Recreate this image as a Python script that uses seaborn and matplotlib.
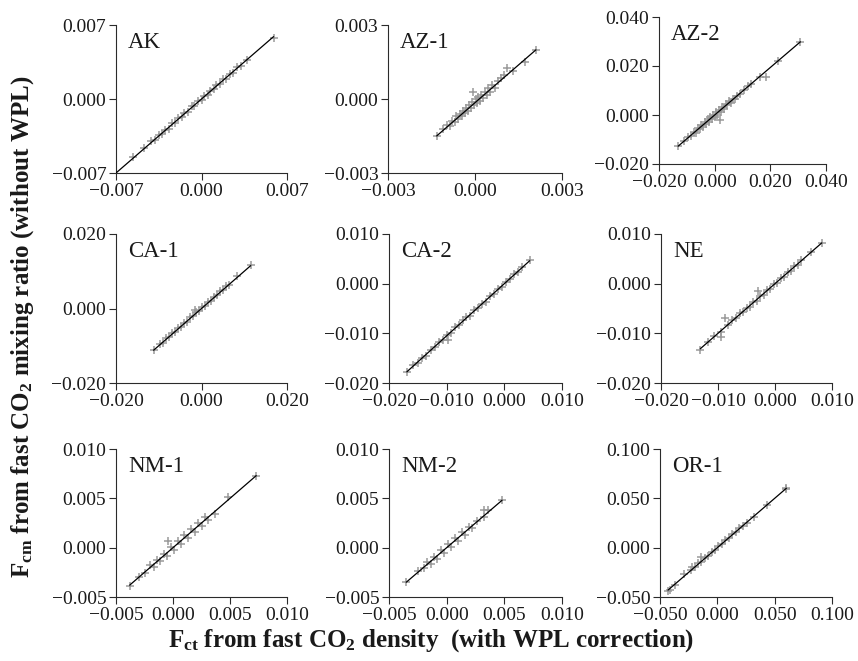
import matplotlib
matplotlib.use("Agg")
import matplotlib.pyplot as plt
from matplotlib.ticker import FuncFormatter
import seaborn as sns

# ---------------------------------------------------------------------------
# Flux pairs per site: Fct (x, with WPL correction) vs Fcm (y, mixing ratio)
# ---------------------------------------------------------------------------
AK_X = [-0.0056, -0.0047, -0.0041, -0.0038, -0.0035, -0.0032, -0.0030, -0.0027,
        -0.0024, -0.0022, -0.0019, -0.0016, -0.0014, -0.0011, -0.0008, -0.0006,
        -0.0003, 0.0000, 0.0002, 0.0005, 0.0007, 0.0010, 0.0012, 0.0015,
        0.0018, 0.0020, 0.0023, 0.0026, 0.0029, 0.0032, 0.0037, 0.0059]
AK_Y = [-0.0055, -0.0046, -0.0040, -0.0039, -0.0034, -0.0033, -0.0029, -0.0028,
        -0.0023, -0.0023, -0.0018, -0.0017, -0.0013, -0.0012, -0.0007, -0.0007,
        -0.0002, -0.0001, 0.0003, 0.0004, 0.0008, 0.0009, 0.0013, 0.0014,
        0.0019, 0.0019, 0.0024, 0.0025, 0.0030, 0.0031, 0.0037, 0.0058]

AZ1_X = [-0.00132, -0.00110, -0.00095, -0.00085, -0.00078, -0.00070, -0.00064,
         -0.00058, -0.00052, -0.00046, -0.00040, -0.00035, -0.00030, -0.00025,
         -0.00020, -0.00015, -0.00010, -0.00006, -0.00002, 0.00003, 0.00008,
         0.00012, 0.00017, 0.00022, 0.00028, 0.00033, 0.00040, 0.00046, 0.00052,
         0.00060, 0.00068, 0.00078, 0.00090, 0.00100, 0.00110, 0.00130, 0.00172,
         0.00210]
AZ1_Y = [-0.00150, -0.00122, -0.00105, -0.00110, -0.00088, -0.00092, -0.00070,
         -0.00082, -0.00060, -0.00070, -0.00048, -0.00058, -0.00036, -0.00050,
         -0.00026, -0.00038, -0.00014, 0.00030, -0.00024, -0.00002, -0.00015,
         0.00008, -0.00008, 0.00018, 0.00004, 0.00030, 0.00016, 0.00044, 0.00028,
         0.00058, 0.00046, 0.00074, 0.00086, 0.00096, 0.00124, 0.00115, 0.00151,
         0.00199]

AZ2_X = [-0.0131, -0.0110, -0.0095, -0.0085, -0.0075, -0.0068, -0.0060, -0.0054,
         -0.0048, -0.0042, -0.0036, -0.0030, -0.0025, -0.0020, -0.0015, -0.0010,
         -0.0005, 0.0000, 0.0005, 0.0010, 0.0015, 0.0018, 0.0022, 0.0028,
         0.0034, 0.0040, 0.0046, 0.0052, 0.0058, 0.0065, 0.0072, 0.0080,
         0.0090, 0.0105, 0.0120, 0.0132, 0.0162, 0.0183, 0.0228, 0.0308]
AZ2_Y = [-0.0127, -0.0108, -0.0090, -0.0086, -0.0070, -0.0072, -0.0055, -0.0058,
         -0.0042, -0.0048, -0.0030, -0.0038, -0.0018, -0.0028, -0.0008, -0.0018,
         0.0002, -0.0010, 0.0012, -0.0002, 0.0020, -0.0022, 0.0012, 0.0034,
         0.0024, 0.0046, 0.0040, 0.0056, 0.0050, 0.0066, 0.0064, 0.0079,
         0.0084, 0.0103, 0.0118, 0.0128, 0.0156, 0.0154, 0.0222, 0.0298]

CA1_X = [-0.0112, -0.0098, -0.0090, -0.0082, -0.0075, -0.0068, -0.0061, -0.0054,
         -0.0047, -0.0040, -0.0033, -0.0026, -0.0019, -0.0015, -0.0012, -0.0005,
         0.0002, 0.0009, 0.0016, 0.0023, 0.0030, 0.0037, 0.0044, 0.0051,
         0.0058, 0.0065, 0.0082, 0.0115]
CA1_Y = [-0.0112, -0.0095, -0.0092, -0.0080, -0.0077, -0.0066, -0.0063, -0.0052,
         -0.0049, -0.0038, -0.0035, -0.0024, -0.0021, -0.0004, -0.0010, -0.0007,
         0.0004, 0.0007, 0.0018, 0.0021, 0.0032, 0.0035, 0.0046, 0.0049,
         0.0060, 0.0063, 0.0086, 0.0117]

CA2_X = [-0.0169, -0.0158, -0.0150, -0.0143, -0.0136, -0.0128, -0.0120, -0.0113,
         -0.0106, -0.0100, -0.0097, -0.0092, -0.0085, -0.0078, -0.0071, -0.0066,
         -0.0060, -0.0053, -0.0046, -0.0039, -0.0032, -0.0025, -0.0018, -0.0011,
         -0.0004, 0.0003, 0.0010, 0.0017, 0.0024, 0.0030, 0.0044]
CA2_Y = [-0.0178, -0.0164, -0.0160, -0.0149, -0.0145, -0.0133, -0.0128, -0.0117,
         -0.0113, -0.0103, -0.0114, -0.0099, -0.0088, -0.0084, -0.0073, -0.0067,
         -0.0065, -0.0054, -0.0050, -0.0040, -0.0036, -0.0025, -0.0021, -0.0010,
         -0.0006, 0.0004, 0.0009, 0.0019, 0.0024, 0.0033, 0.0047]

NE_X = [-0.0131, -0.0117, -0.0107, -0.0094, -0.0094, -0.0087, -0.0082, -0.0075,
        -0.0068, -0.0062, -0.0056, -0.0050, -0.0044, -0.0038, -0.0032, -0.0029,
        -0.0026, -0.0020, -0.0014, -0.0008, -0.0002, 0.0004, 0.0010, 0.0016,
        0.0022, 0.0028, 0.0034, 0.0040, 0.0046, 0.0063, 0.0082]
NE_Y = [-0.0134, -0.0118, -0.0106, -0.0108, -0.0097, -0.0069, -0.0084, -0.0073,
        -0.0070, -0.0060, -0.0058, -0.0048, -0.0046, -0.0036, -0.0034, -0.0014,
        -0.0024, -0.0022, -0.0012, -0.0010, 0.0000, 0.0002, 0.0012, 0.0014,
        0.0024, 0.0026, 0.0036, 0.0038, 0.0048, 0.0064, 0.0082]

NM1_X = [-0.0038, -0.0030, -0.0025, -0.0020, -0.0017, -0.0014, -0.0011, -0.0008,
         -0.0005, -0.0004, -0.0002, 0.0001, 0.0004, 0.0007, 0.0010, 0.0013,
         0.0016, 0.0019, 0.0022, 0.0025, 0.0028, 0.0031, 0.0037, 0.0048, 0.0073]
NM1_Y = [-0.0039, -0.0030, -0.0026, -0.0018, -0.0020, -0.0012, -0.0014, -0.0006,
         -0.0008, 0.0007, 0.0001, -0.0002, 0.0007, 0.0004, 0.0013, 0.0010,
         0.0019, 0.0016, 0.0025, 0.0022, 0.0031, 0.0028, 0.0034, 0.0051, 0.0073]

NM2_X = [-0.0035, -0.0025, -0.0020, -0.0017, -0.0014, -0.0011, -0.0008, -0.0005,
         -0.0002, 0.0001, 0.0004, 0.0007, 0.0010, 0.0013, 0.0016, 0.0019,
         0.0022, 0.0026, 0.0032, 0.0036, 0.0032, 0.0048]
NM2_Y = [-0.0035, -0.0024, -0.0021, -0.0015, -0.0017, -0.0009, -0.0011, -0.0002,
         -0.0005, 0.0004, 0.0001, 0.0010, 0.0007, 0.0016, 0.0013, 0.0021,
         0.0020, 0.0027, 0.0038, 0.0038, 0.0031, 0.0048]

OR1_X = [-0.0430, -0.0413, -0.0370, -0.0290, -0.0233, -0.0219, -0.0195, -0.0170,
         -0.0146, -0.0140, -0.0110, -0.0080, -0.0050, -0.0020, 0.0010, 0.0040,
         0.0070, 0.0100, 0.0130, 0.0160, 0.0190, 0.0220, 0.0260, 0.0320,
         0.0437, 0.0595, 0.0602]
OR1_Y = [-0.0440, -0.0433, -0.0380, -0.0270, -0.0230, -0.0195, -0.0200, -0.0160,
         -0.0095, -0.0145, -0.0105, -0.0085, -0.0045, -0.0025, 0.0015, 0.0035,
         0.0075, 0.0095, 0.0135, 0.0155, 0.0195, 0.0215, 0.0250, 0.0310,
         0.0429, 0.0590, 0.0601]

SITES = ["AK", "AZ-1", "AZ-2", "CA-1", "CA-2", "NE", "NM-1", "NM-2", "OR-1"]
SITE_X = [AK_X, AZ1_X, AZ2_X, CA1_X, CA2_X, NE_X, NM1_X, NM2_X, OR1_X]
SITE_Y = [AK_Y, AZ1_Y, AZ2_Y, CA1_Y, CA2_Y, NE_Y, NM1_Y, NM2_Y, OR1_Y]

# Regression line for each site (slope, intercept) and the x span it covers
FIT_SLOPE = [1.00, 1.02, 0.97, 1.00, 1.05, 1.00, 1.00, 1.00, 1.00]
FIT_INTERCEPT = [0.0, -0.00015, 0.0, 0.0, 0.0, 0.0, 0.0, 0.0, 0.0]
FIT_X0 = [-0.0070, -0.00132, -0.0131, -0.0112, -0.0169, -0.0131, -0.0038, -0.0035, -0.0430]
FIT_X1 = [0.0059, 0.00210, 0.0308, 0.0115, 0.0044, 0.0082, 0.0073, 0.0048, 0.0602]

# Axis ticks (same for x and y in each panel)
X_TICKS = [
    [-0.007, 0.0, 0.007],
    [-0.003, 0.0, 0.003],
    [-0.02, 0.0, 0.02, 0.04],
    [-0.02, 0.0, 0.02],
    [-0.02, -0.01, 0.0, 0.01],
    [-0.02, -0.01, 0.0, 0.01],
    [-0.005, 0.0, 0.005, 0.01],
    [-0.005, 0.0, 0.005, 0.01],
    [-0.05, 0.0, 0.05, 0.1],
]
Y_TICKS = [
    [-0.007, 0.0, 0.007],
    [-0.003, 0.0, 0.003],
    [-0.02, 0.0, 0.02, 0.04],
    [-0.02, 0.0, 0.02],
    [-0.02, -0.01, 0.0, 0.01],
    [-0.02, -0.01, 0.0, 0.01],
    [-0.005, 0.0, 0.005, 0.01],
    [-0.005, 0.0, 0.005, 0.01],
    [-0.05, 0.0, 0.05, 0.1],
]

# ---------------------------------------------------------------------------
# Style
# ---------------------------------------------------------------------------
sns.set_theme(style="ticks")
plt.rcParams["font.family"] = ["Liberation Serif", "DejaVu Serif"]
plt.rcParams["mathtext.fontset"] = "custom"
plt.rcParams["mathtext.rm"] = "Liberation Serif"
plt.rcParams["mathtext.bf"] = "Liberation Serif:bold"
plt.rcParams["mathtext.it"] = "Liberation Serif:italic"
plt.rcParams["axes.unicode_minus"] = True

W, H = 858, 661
fig = plt.figure(figsize=(W / 100, H / 100), dpi=100)
fig.patch.set_facecolor("white")

# panel boxes in pixels: left, top, right, bottom
BOXES = [
    (116, 25, 287, 173), (388, 25, 562, 173), (659, 17, 826, 164),
    (116, 234, 287, 383), (389, 234, 562, 383), (661, 234, 832, 383),
    (116, 449, 287, 597), (389, 449, 562, 597), (660, 449, 832, 597),
]


def tick_fmt(v, _pos):
    if abs(v) < 1e-12:
        v = 0.0
    return f"{v:.3f}".replace("-", "\u2212")


POINT_COLOR = "#9a9a9a"
AXIS_COLOR = "#2b2b2b"

for i, site in enumerate(SITES):
    l, t, r, b = BOXES[i]
    ax = fig.add_axes([l / W, 1 - b / H, (r - l) / W, (b - t) / H])
    ax.set_facecolor("white")

    sns.scatterplot(x=SITE_X[i], y=SITE_Y[i], ax=ax, marker="+",
                    color=POINT_COLOR, s=38, linewidth=1.1, legend=False,
                    zorder=2)
    lx = [FIT_X0[i], FIT_X1[i]]
    ly = [FIT_SLOPE[i] * v + FIT_INTERCEPT[i] for v in lx]
    sns.lineplot(x=lx, y=ly, ax=ax, color="black", linewidth=0.9, zorder=3)

    ax.set_xlim(X_TICKS[i][0], X_TICKS[i][-1])
    ax.set_ylim(Y_TICKS[i][0], Y_TICKS[i][-1])
    ax.set_xticks(X_TICKS[i])
    ax.set_yticks(Y_TICKS[i])
    ax.xaxis.set_major_formatter(FuncFormatter(tick_fmt))
    ax.yaxis.set_major_formatter(FuncFormatter(tick_fmt))
    ax.set_xlabel("")
    ax.set_ylabel("")

    sns.despine(ax=ax)
    for side in ("left", "bottom"):
        ax.spines[side].set_linewidth(0.8)
        ax.spines[side].set_color(AXIS_COLOR)
    ax.tick_params(direction="out", length=5, width=0.8, color=AXIS_COLOR,
                   labelsize=14, labelcolor="#1a1a1a", pad=2)

    ax.text(0.07, 0.95, site, transform=ax.transAxes, ha="left", va="top",
            fontsize=16.5, color="#1a1a1a")

fig.text(0.026, 0.505,
         r"$\mathbf{F}_{\mathbf{cm}}$ from fast CO$_{\mathbf{2}}$ mixing ratio (without WPL)",
         rotation=90, ha="center", va="center", fontsize=18, fontweight="bold",
         color="#1a1a1a")
fig.text(0.503, 1 - 641 / H,
         r"$\mathbf{F}_{\mathbf{ct}}$ from fast CO$_{\mathbf{2}}$ density  (with WPL correction)",
         ha="center", va="center", fontsize=18, fontweight="bold",
         color="#1a1a1a")

fig.savefig("out.png", dpi=100, facecolor="white")
